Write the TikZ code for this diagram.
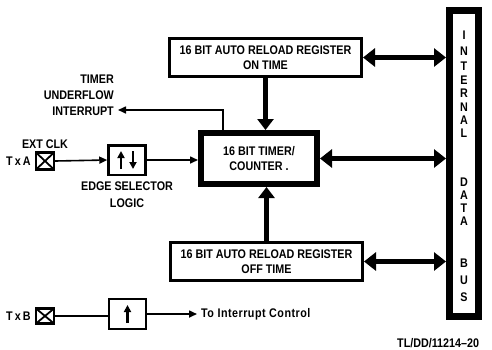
\documentclass[tikz,border=0pt]{standalone}
\usepackage{fontspec}
\setmainfont{Liberation Sans}[FakeStretch=0.86]
\usetikzlibrary{positioning, arrows.meta}

\begin{document}
\begin{tikzpicture}[x=1pt, y=-1pt,
    every node/.style={font=\bfseries\fontsize{12.5}{15}\selectfont, align=center, inner sep=1pt},
    regbox/.style={draw, line width=3pt, minimum width=192pt, minimum height=38.5pt},
    tmrbox/.style={draw, line width=6pt, minimum width=116pt, minimum height=51pt},
    busbox/.style={draw, line width=7pt, minimum width=29pt, minimum height=306pt},
    smallbox/.style={draw, line width=2.5pt, minimum width=37pt, minimum height=29.5pt},
    pinbox/.style={draw, line width=2.2pt, minimum width=18pt, minimum height=15pt, inner sep=0pt,
        path picture={\draw[line width=1.8pt] (path picture bounding box.north west) -- (path picture bounding box.south east)
            (path picture bounding box.north east) -- (path picture bounding box.south west);}},
    bigarr/.style={line width=5.5pt, -{Triangle[length=11pt,width=16pt]}},
    busarr/.style={line width=5.5pt, {Triangle[length=12pt,width=18pt]}-{Triangle[length=12pt,width=18pt]}},
    thinarr/.style={line width=1.6pt, -{Triangle[length=8pt,width=7pt]}},
    glyph/.style={line width=2.2pt, -{Triangle[length=7pt,width=7pt]}}
]
\useasboundingbox (0,0) rectangle (492,349);

% blocks
\node[regbox] (ontime) at (265.5,57.5) {16 BIT AUTO RELOAD REGISTER\\ON TIME};
\node[tmrbox] (tmr) at (259,158.5) {16 BIT TIMER/\\COUNTER .};
\node[regbox] (offtime) at (266.5,261.5) {16 BIT AUTO RELOAD REGISTER\\OFF TIME};
\node[busbox] (bus) at (464,163.5) {};
\foreach \ch/\yy [count=\i] in {I/35,N/51,T/66,E/80,R/93,N/107,A/120,L/133,D/182,A/195,T/208,A/221,B/263,U/280,S/297}
    \node (bl\i) at (464,\yy) {\ch};

% clock input
\node[pinbox, minimum height=17pt] (txa) at (45,161) {};
\node[left=3pt of txa] (txalbl) {T\,x\,A};
\node[above=2pt of txa] (extclk) {EXT CLK};
\node[smallbox] (edge) at (127,160) {};
\draw[glyph] (edge.center) ++(-6,9) -- ++(0,-18);
\draw[glyph] (edge.center) ++(6,-9) -- ++(0,18);
\node[below=5pt of edge, font=\bfseries\fontsize{12.5}{17}\selectfont] (edgelbl) {EDGE SELECTOR\\LOGIC};

% underflow
\coordinate (ufend) at (118,110);
\node[anchor=south east, align=right, font=\bfseries\fontsize{12.5}{16}\selectfont] (uflbl) at (115,117) {TIMER\\UNDERFLOW\\INTERRUPT};

% TxB
\node[pinbox] (txb) at (45,316) {};
\node[left=3pt of txb] (txblbl) {T\,x\,B};
\node[smallbox, minimum height=30pt] (upbox) at (127.5,314) {};
\draw[glyph] (upbox.center) ++(0,9) -- ++(0,-18);
\coordinate (intend) at (197,314);
\node[right=3pt of intend, font=\bfseries\fontsize{12.5}{15}\selectfont\addfontfeature{LetterSpace=4}] (intlbl) {To Interrupt Control};

\node[anchor=west, font=\bfseries\fontsize{12.5}{15}\selectfont] (tlref) at (396,343) {TL/DD/11214--20};

% connectors
\draw[bigarr] (ontime.south) -- (ontime.south |- tmr.north);
\draw[bigarr] (offtime.north) -- (offtime.north |- tmr.south);
\draw[busarr] (ontime.east) -- (ontime.east -| bus.west);
\draw[busarr] (tmr.east) -- (tmr.east -| bus.west);
\draw[busarr] (offtime.east) -- (offtime.east -| bus.west);
\draw[thinarr] (txa.east) -- (edge.west);
\draw[thinarr] (edge.east) -- (edge.east -| tmr.west);
\draw[thinarr] ([xshift=25pt]tmr.north west) |- (ufend);
\draw[line width=1.6pt] (txb.east) -- (txb.east -| upbox.west);
\draw[thinarr] (upbox.east) -- (intend);
\end{tikzpicture}
\end{document}
